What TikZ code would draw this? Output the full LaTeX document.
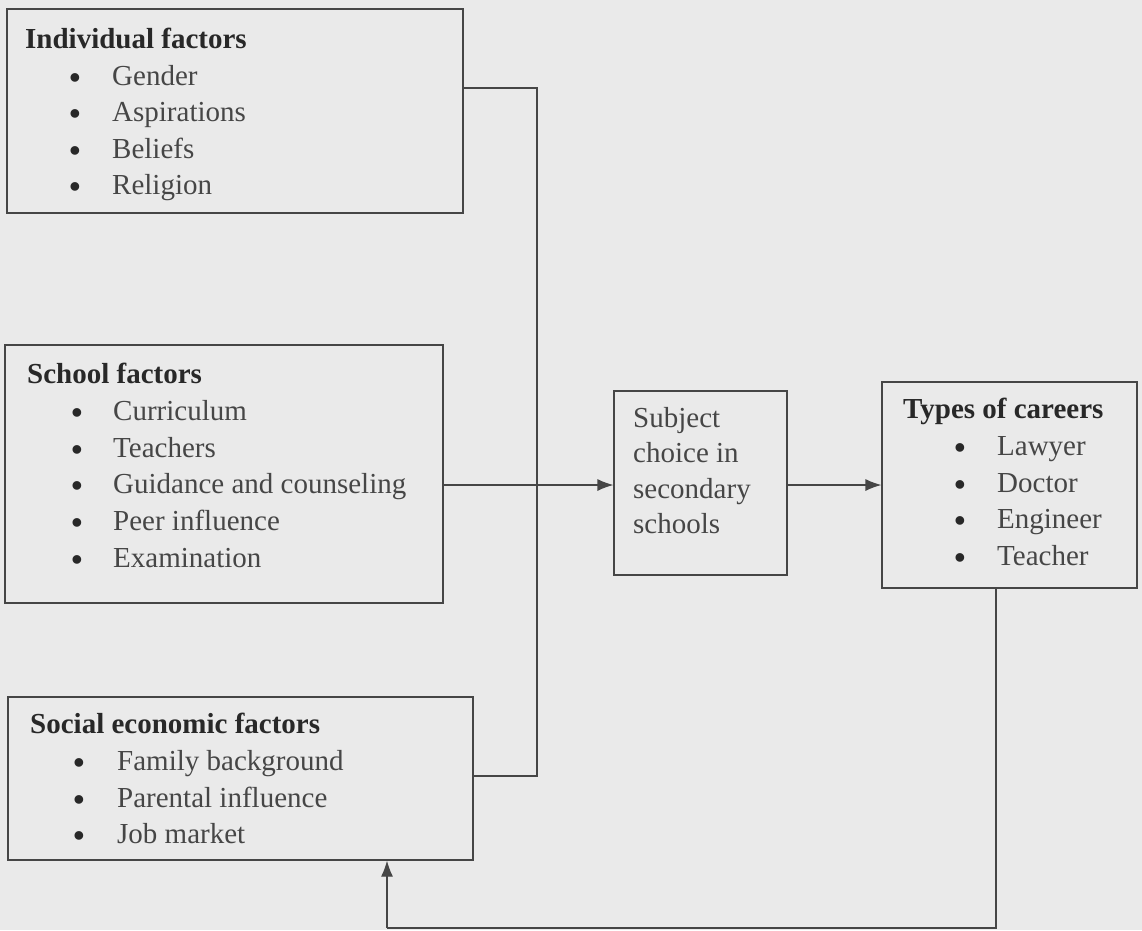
\documentclass[tikz,border=0pt]{standalone}
\usepackage{fontspec}
\setmainfont{Liberation Serif}
\usetikzlibrary{arrows.meta}
\definecolor{bg}{RGB}{234,234,234}
\definecolor{ink}{RGB}{70,70,70}
\definecolor{inkb}{RGB}{40,40,40}
\definecolor{edge}{RGB}{70,70,70}
\tikzset{
  box/.style={draw=edge, line width=1.2pt, inner sep=0pt},
  ttl/.style={anchor=base west, inner sep=0pt, text=inkb, font=\fontsize{29}{36}\selectfont\bfseries},
  itm/.style={anchor=base west, inner sep=0pt, text=ink, font=\fontsize{29}{36}\selectfont},
  bul/.style={anchor=base, inner sep=0pt, text=inkb, font=\fontsize{32}{36}\selectfont\bfseries},
  conn/.style={draw=edge, line width=1.2pt},
  arr/.style={conn, -{Latex[length=16pt,width=12pt]}}
}
\begin{document}
\begin{tikzpicture}[x=1pt,y=-1pt]
\fill[bg] (0,0) rectangle (1142,930);
\useasboundingbox (0,0) rectangle (1142,930);

% boxes
\node[box, minimum width=456pt, minimum height=204pt] (ind) at (235,111) {};
\node[box, minimum width=438pt, minimum height=258pt] (sch) at (224,474) {};
\node[box, minimum width=465pt, minimum height=163pt] (soc) at (240.5,778.5) {};
\node[box, minimum width=173pt, minimum height=184pt] (sub) at (700.5,483) {};
\node[box, minimum width=255pt, minimum height=206pt] (typ) at (1009.5,485) {};

% Individual factors
\node[ttl] (indt) at (25,48) {Individual factors};
\node[bul] (indb1) at (75,88) {•};   \node[itm] (ind1) at (112,85) {Gender};
\node[bul] (indb2) at (75,124.5) {•};  \node[itm] (ind2) at (112,121.5) {Aspirations};
\node[bul] (indb3) at (75,161) {•};  \node[itm] (ind3) at (112,158) {Beliefs};
\node[bul] (indb4) at (75,197.5) {•};  \node[itm] (ind4) at (112,194.5) {Religion};

% School factors
\node[ttl] (scht) at (27,383) {School factors};
\node[bul] (schb1) at (77,423) {•}; \node[itm] (sch1) at (113,420) {Curriculum};
\node[bul] (schb2) at (77,460) {•}; \node[itm] (sch2) at (113,457) {Teachers};
\node[bul] (schb3) at (77,496) {•}; \node[itm] (sch3) at (113,493) {Guidance and counseling};
\node[bul] (schb4) at (77,533) {•}; \node[itm] (sch4) at (113,530) {Peer influence};
\node[bul] (schb5) at (77,570) {•}; \node[itm] (sch5) at (113,567) {Examination};

% Social economic factors
\node[ttl] (soct) at (30,733) {Social economic factors};
\node[bul] (socb1) at (79,773) {•}; \node[itm] (soc1) at (117,770) {Family background};
\node[bul] (socb2) at (79,810) {•}; \node[itm] (soc2) at (117,807) {Parental influence};
\node[bul] (socb3) at (79,846) {•}; \node[itm] (soc3) at (117,843) {Job market};

% Subject choice
\node[itm] (sub1) at (633,427) {Subject};
\node[itm] (sub2) at (633,462.5) {choice in};
\node[itm] (sub3) at (633,498) {secondary};
\node[itm] (sub4) at (633,533.5) {schools};

% Types of careers
\node[ttl] (typt) at (903,418) {Types of careers};
\node[bul] (typb1) at (960,458) {•}; \node[itm] (typ1) at (997,455) {Lawyer};
\node[bul] (typb2) at (960,495) {•}; \node[itm] (typ2) at (997,492) {Doctor};
\node[bul] (typb3) at (960,531) {•}; \node[itm] (typ3) at (997,528) {Engineer};
\node[bul] (typb4) at (960,568) {•}; \node[itm] (typ4) at (997,565) {Teacher};

% connectors
\coordinate (j1) at (537,88);
\coordinate (j2) at (537,776);
\coordinate (m) at (0,485);
\coordinate (k1) at (996,928);
\coordinate (k2) at (387,928);
\draw[conn] (ind.east |- j1) -- (j1) -- (j2) -- (soc.east |- j2);
\draw[arr] (sch.east |- m) -- (sub.west |- m);
\draw[arr] (sub.east |- m) -- (typ.west |- m);
\draw[conn] (typ.south -| k1) -- (k1) -- (k2);
\draw[arr] (k2) -- (soc.south -| k2);
\end{tikzpicture}
\end{document}
